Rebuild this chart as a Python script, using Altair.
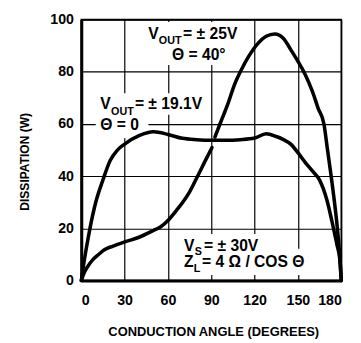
import altair as alt
import pandas as pd

# ---- data ----
x_ticks = [0, 30, 60, 90, 120, 150, 180]
y_ticks = [0, 20, 40, 60, 80, 100]

# V_OUT = ±19.1V, Θ = 0
a_deg = [0, 2, 4, 6, 10, 15, 20, 25, 30, 40, 50, 60, 70, 80, 90, 100, 110, 120, 128, 135, 140, 145, 150, 155, 160, 165, 170, 174.6, 177, 179, 180]
a_w = [0, 7.5, 14, 20, 30, 38.6, 46, 50, 52.3, 55.5, 57, 56, 54.5, 54, 53.8, 53.8, 54, 54.6, 56.3, 55.2, 54, 52.3, 49, 45.3, 42, 38.5, 31, 20, 13.8, 8, 0]

# V_OUT = ±25V, Θ = 40°  (drawn in two pieces, broken where it crosses the other curve)
b1_deg = [0, 2, 4, 8, 12, 16, 22, 30, 40, 50, 55, 60, 66, 70, 75, 80.5, 85, 90.5]
b1_w = [0, 3, 5, 8, 10, 11.8, 13.2, 14.8, 16.6, 19.2, 20.6, 23, 27, 29.8, 34, 40, 45, 51]
b2_deg = [92.5, 96, 102, 106, 111, 116, 122.5, 128, 134, 140, 145, 150, 155, 160, 164, 168, 170.5, 173, 175.3, 177.3, 179, 180]
b2_w = [55, 60, 68.5, 75, 81, 86, 91, 93.6, 94.5, 92.8, 88.5, 84, 79, 72.5, 66, 60, 50, 40, 30, 20, 9, 0]

# annotation text pieces (main size): text, x, y (data units)
main_txt = ["V", "= \u00b1 25V", "\u0398 = 40\u00b0",
            "V", "= \u00b1 19.1V", "\u0398 = 0",
            "V", "= \u00b1 30V", "Z", "= 4 \u03a9 / COS \u0398"]
main_x = [46.3, 70.5, 62.8, 13.2, 37.1, 13.2, 71.1, 85.0, 71.1, 83.6]
main_y = [92.7, 92.7, 84.6, 65.9, 65.9, 57.8, 11.5, 11.5, 5.3, 5.3]

sub_txt = ["OUT", "OUT", "S", "L"]
sub_x = [53.7, 20.6, 78.6, 77.9]
sub_y = [90.8, 63.4, 9.7, 3.4]

# white boxes behind the annotations (hide grid lines like the original)
box_x0 = [43.8, 10.0, 10.0, 68.9, 68.9]
box_x1 = [107.4, 84.4, 46.5, 123.1, 152.1]
box_y0 = [82.6, 63.5, 54.5, 11.4, 2.1]
box_y1 = [99.1, 71.8, 63.5, 17.8, 12.2]

# ---- tables ----
curves = pd.concat([
    pd.DataFrame({"deg": a_deg, "w": a_w, "seg": "a"}),
    pd.DataFrame({"deg": b1_deg, "w": b1_w, "seg": "b1"}),
    pd.DataFrame({"deg": b2_deg, "w": b2_w, "seg": "b2"}),
])
mains = pd.DataFrame({"deg": main_x, "w": main_y, "txt": main_txt})
subs = pd.DataFrame({"deg": sub_x, "w": sub_y, "txt": sub_txt})
boxes = pd.DataFrame({"deg": box_x0, "deg2": box_x1, "w": box_y0, "w2": box_y1})

LAB = "Liberation Sans"

x_enc = alt.X("deg:Q", scale=alt.Scale(domain=[0, 180], nice=False, zero=False),
              axis=alt.Axis(values=x_ticks, title="CONDUCTION ANGLE (DEGREES)",
                            labelBaseline="alphabetic", labelPadding=24.5,
                            titleX=135, titleY=56, titleBaseline="alphabetic",
                            titleAnchor="middle", titleFontSize=13.2))
y_enc = alt.Y("w:Q", scale=alt.Scale(domain=[0, 100], nice=False),
              axis=alt.Axis(values=y_ticks, title="DISSIPATION (W)",
                            labelPadding=8, titleX=-54, titleY=145,
                            titleBaseline="alphabetic", titleFontSize=12.3))

box_layer = alt.Chart(boxes).mark_rect(fill="white").encode(
    x=x_enc, x2="deg2:Q", y=y_enc, y2="w2:Q")

line_layer = alt.Chart(curves).mark_line(
    color="black", strokeWidth=3.6, interpolate="monotone", strokeCap="round"
).encode(x=x_enc, y=y_enc, detail="seg:N")

main_layer = alt.Chart(mains).mark_text(
    font=LAB, fontWeight="bold", fontSize=16, align="left", baseline="alphabetic", color="black"
).encode(x=x_enc, y=y_enc, text="txt:N")

sub_layer = alt.Chart(subs).mark_text(
    font=LAB, fontWeight="bold", fontSize=11, align="left", baseline="alphabetic", color="black"
).encode(x=x_enc, y=y_enc, text="txt:N")

chart = alt.layer(box_layer, line_layer, main_layer, sub_layer).properties(
    width=266, height=267,
    padding={"left": 75, "top": 8, "right": 12, "bottom": 60},
    autosize=alt.AutoSizeParams(type="none"),
).configure_view(
    stroke="black", strokeWidth=1.6
).configure_axis(
    grid=True, gridColor="black", gridWidth=1.2, gridOpacity=1,
    ticks=False, domainColor="black", domainWidth=3,
    labelFont=LAB, labelFontWeight="bold", labelFontSize=14.5, labelColor="black",
    titleFont=LAB, titleFontWeight="bold", titleColor="black",
)

chart.save("out.html", embed_options={"renderer": "svg", "actions": False})
